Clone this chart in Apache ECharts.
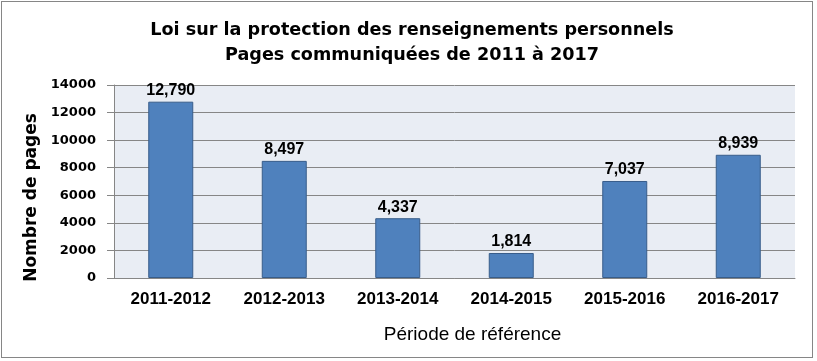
<!DOCTYPE html>
<html><head><meta charset="utf-8">
<script src="https://cdn.jsdelivr.net/npm/echarts@6/dist/echarts.min.js"></script>
<style>html,body{margin:0;padding:0;background:#fff}#c{width:817px;height:361px;}
#frame{position:absolute;left:1px;top:1px;width:812px;height:357px;border:1px solid #868686;box-sizing:border-box;pointer-events:none}</style>
</head><body><div id="c"></div><div id="frame"></div>
<script>
const categories = ['2011-2012','2012-2013','2013-2014','2014-2015','2015-2016','2016-2017'];
const pages = [12790, 8497, 4337, 1814, 7037, 8939];
const titleLines = ['Loi sur la protection des renseignements personnels','Pages communiquées de 2011 à 2017'];
const yName = 'Nombre de pages';
const xName = 'Période de référence';

const chart = echarts.init(document.getElementById('c'));
const F = 'Liberation Sans, Arial, sans-serif';
const W = 'DejaVu Sans, Liberation Sans, sans-serif';
chart.setOption({
  animation:false,
  title:{text:titleLines.join('\n'),left:407,top:13,textAlign:'center',
    textStyle:{fontFamily:W,fontWeight:'bold',fontSize:17.6,lineHeight:25,color:'#000'}},
  grid:{left:114,right:22,top:85,bottom:83,show:true,backgroundColor:'#e9edf4',borderWidth:0},
  xAxis:{type:'category',data:categories,
    axisLine:{lineStyle:{color:'#868686'}},axisTick:{show:false},
    axisLabel:{fontFamily:F,fontWeight:'bold',fontSize:17,color:'#000',margin:13},
    name:xName,nameLocation:'middle',nameGap:47,
    nameTextStyle:{fontFamily:F,fontSize:19,color:'#000',padding:[0,0,0,36]}},
  yAxis:{type:'value',min:0,max:14000,interval:2000,
    axisLine:{show:true,lineStyle:{color:'#868686'}},axisTick:{show:true,length:7,lineStyle:{color:'#868686'}},
    splitLine:{lineStyle:{color:'#868686'}},
    axisLabel:{fontFamily:W,fontWeight:'bold',fontSize:13,color:'#000',margin:18,formatter:v=>String(v)},
    name:yName,nameLocation:'middle',nameGap:73,
    nameTextStyle:{fontFamily:W,fontWeight:'bold',fontSize:17,color:'#000',padding:[0,32,0,0]}},
  series:[{type:'bar',data:pages,barWidth:45,
    itemStyle:{color:'#4f81bd',borderColor:'#385d8a',borderWidth:1},
    label:{show:true,position:'top',distance:3,fontFamily:F,fontWeight:'bold',fontSize:16,color:'#000',
      formatter:p=>p.value.toLocaleString('en-US')}}]
});
</script></body></html>
